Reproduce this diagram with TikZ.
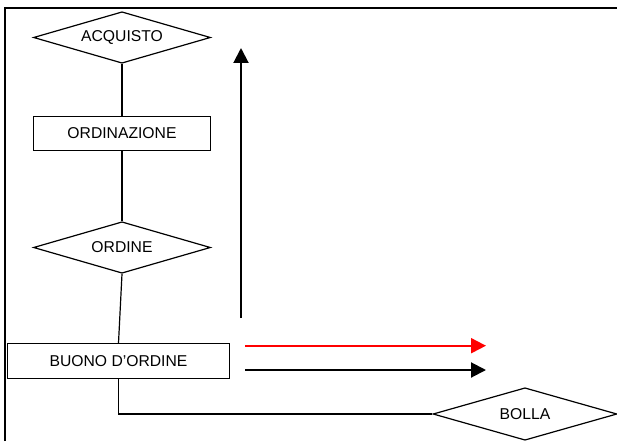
\documentclass[tikz,border=0pt]{standalone}
\usepackage{fontspec}
\setmainfont{Liberation Sans}
\usetikzlibrary{shapes.geometric,arrows.meta}

\tikzset{
entity/.style = {draw, line width=1.2pt, shape=diamond, shape aspect=3.4,
	inner sep=0pt, minimum width=177pt, minimum height=51.5pt},
relbox/.style = {draw, line width=1.2pt, rectangle, inner sep=0pt, minimum height=34.7pt},
link/.style = {line width=1.2pt},
flow/.style = {line width=2pt, -{Triangle[length=15pt,width=15pt]}}
}

\begin{document}
\begin{tikzpicture}[x=1pt,y=-1pt,font=\fontsize{15.7}{18}\selectfont]
\useasboundingbox (0,0) rectangle (617,441);

% frame
\draw[line width=2pt] (5,441) -- (5,8) -- (617,8);

% entities and relations
\node[entity] (acquisto) at (122,37.5) {ACQUISTO};
\node[relbox, minimum width=177pt] (ordinazione) at (122,133.5) {ORDINAZIONE};
\node[entity] (ordine) at (122,247.5) {ORDINE};
\node[relbox, minimum width=222pt] (buono) at (118.5,361) {BUONO D’ORDINE};
\node[entity, minimum width=184pt, minimum height=52.5pt] (bolla) at (525,414) {BOLLA};

\draw[link] (acquisto.south) -- (ordinazione.north);
\draw[link] (ordinazione.south) -- (ordine.north);
\draw[link] (ordine.south) -- (buono.north);
\draw[link] (buono.south) |- (bolla.west);

% up arrow
\coordinate (up0) at (241,318);
\coordinate (up1) at (241,48);
\draw[flow] (up0) -- (up1);

% right arrows
\foreach \n/\y/\c in {ra/345.7/red, rb/370/black}
{
	\coordinate (\n0) at (245,\y);
	\coordinate (\n1) at (486,\y);
	\draw[flow,\c] (\n0) -- (\n1);
}
\end{tikzpicture}
\end{document}
